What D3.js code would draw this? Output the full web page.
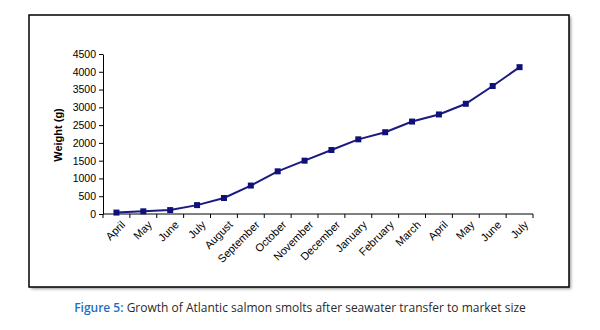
<!DOCTYPE html>
<html>
<head>
<meta charset="utf-8">
<script src="https://d3js.org/d3.v7.min.js"></script>
<style>
  body { margin: 0; background: #fff; }
  svg { display: block; }
</style>
</head>
<body>
<svg id="chart" width="600" height="330"></svg>
<script>
// data
var months = ["April", "May", "June", "July", "August", "September", "October", "November",
              "December", "January", "February", "March", "April ", "May ", "June ", "July "];
var weights = [40, 75, 110, 250, 450, 800, 1200, 1500, 1800, 2100, 2300, 2600, 2800, 3100, 3600, 4130];
var yTicks = [0, 500, 1000, 1500, 2000, 2500, 3000, 3500, 4000, 4500];

var svg = d3.select("#chart");

// frame with a soft shadow
var defs = svg.append("defs");
var f = defs.append("filter").attr("id", "shadow").attr("x", "-5%").attr("y", "-5%").attr("width", "110%").attr("height", "110%");
f.append("feGaussianBlur").attr("stdDeviation", 1.5);
svg.append("rect").attr("x", 31).attr("y", 17).attr("width", 540).attr("height", 272)
  .attr("fill", "#999").attr("filter", "url(#shadow)");
svg.append("rect").attr("x", 29).attr("y", 15).attr("width", 540).attr("height", 272)
  .attr("fill", "#fff").attr("stroke", "#000").attr("stroke-width", 1.5);

var plotL = 103, plotR = 533, plotT = 54, plotB = 214;

var x = d3.scaleBand().domain(months).range([plotL, plotR]);
var y = d3.scaleLinear().domain([0, 4500]).range([plotB, plotT]);

// y axis
var gy = svg.append("g").attr("transform", "translate(" + plotL + ",0)")
  .call(d3.axisLeft(y).tickValues(yTicks).tickFormat(d3.format("d")).tickSize(4).tickSizeOuter(0));
gy.selectAll("text").style("font-family", "Arial, 'Liberation Sans', sans-serif").style("font-size", "10.5px").attr("fill", "#000");

// x axis, ticks on category edges
var gx = svg.append("g").attr("transform", "translate(0," + plotB + ")");
gx.append("line").attr("x1", plotL).attr("x2", plotR).attr("stroke", "#000");
var edges = months.map(function(m) { return x(m); }).concat([plotR]);
gx.selectAll(".tk").data(edges).enter().append("line")
  .attr("x1", function(d) { return d; }).attr("x2", function(d) { return d; })
  .attr("y1", 0).attr("y2", 4).attr("stroke", "#000");
gx.selectAll(".lbl").data(months).enter().append("text")
  .attr("transform", function(d) {
    return "translate(" + (x(d) + x.bandwidth() / 2 + 4) + ",6) rotate(-45)";
  })
  .attr("text-anchor", "end")
  .attr("dy", "0.7em")
  .style("font-family", "Arial, 'Liberation Sans', sans-serif")
  .style("font-size", "11px")
  .text(function(d) { return d.trim(); });

// y label
svg.append("text")
  .attr("transform", "translate(62,135) rotate(-90)")
  .attr("text-anchor", "middle")
  .style("font-family", "Arial, 'Liberation Sans', sans-serif")
  .style("font-size", "11px")
  .style("font-weight", "bold")
  .text("Weight (g)");

// line + markers
var line = d3.line()
  .x(function(d, i) { return x(months[i]) + x.bandwidth() / 2; })
  .y(function(d) { return y(d); });
svg.append("path").datum(weights)
  .attr("d", line).attr("fill", "none").attr("stroke", "#1a1a80").attr("stroke-width", 2);
svg.selectAll(".pt").data(weights).enter().append("rect")
  .attr("x", function(d, i) { return x(months[i]) + x.bandwidth() / 2 - 3; })
  .attr("y", function(d) { return y(d) - 3; })
  .attr("width", 6).attr("height", 6)
  .attr("fill", "#10107a");

// caption
var cap = svg.append("text").attr("x", 300).attr("y", 312).attr("text-anchor", "middle")
  .style("font-family", "'Open Sans', 'Noto Sans', sans-serif").style("font-size", "12px")
  .style("font-weight", 600);
cap.append("tspan").attr("fill", "#1b6ec2").text("Figure 5: ");
cap.append("tspan").attr("fill", "#2a2a2a").style("font-weight", 500).text("Growth of Atlantic salmon smolts after seawater transfer to market size");
</script>
</body>
</html>
